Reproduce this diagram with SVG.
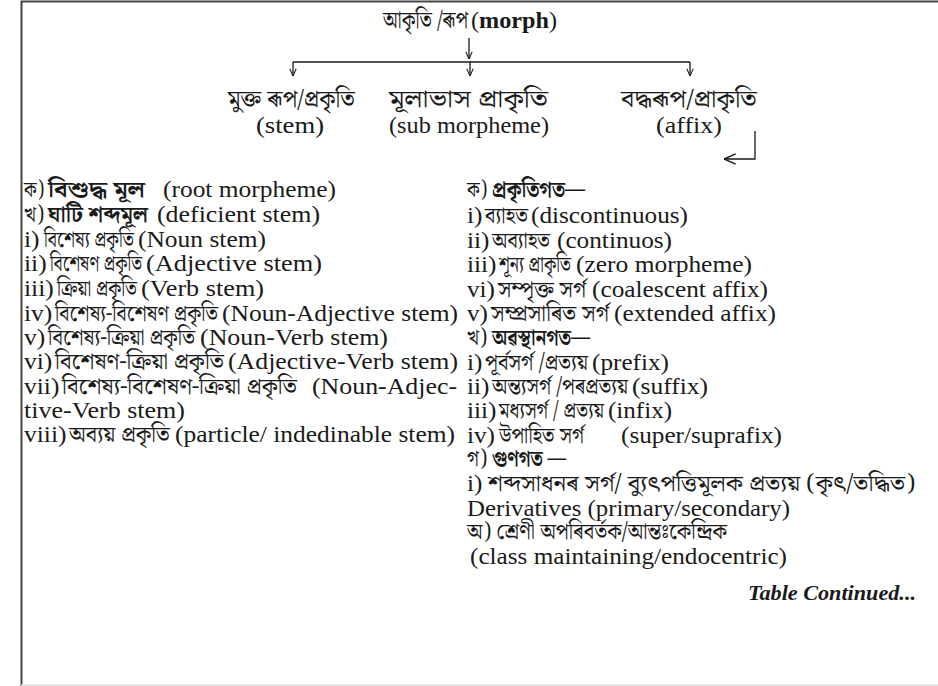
<svg xmlns="http://www.w3.org/2000/svg" width="938" height="686" viewBox="0 0 938 686">
<style>
text{fill:#1a1a1a}
.l{font-family:"Liberation Serif","Times New Roman",serif;font-size:22.5px}
.r{font-family:"Liberation Serif","Times New Roman",serif;font-size:24px}
.b{font-family:"Noto Serif Bengali","Noto Sans Bengali","Lohit Bengali","Liberation Serif",serif;font-size:23px}
.bt{font-family:"Noto Serif Bengali","Noto Sans Bengali","Lohit Bengali","Liberation Serif",serif;font-size:24px}
.bold{font-weight:bold}
.tc{font-family:"Liberation Serif","Times New Roman",serif;font-size:22px;font-weight:bold;font-style:italic}
.ln{stroke:#1a1a1a;stroke-width:1.3;fill:none}
.frame{stroke:#444;stroke-width:2;fill:none}
</style>
<defs>
<marker id="arr" viewBox="0 0 10 10" refX="10" refY="5" markerWidth="8" markerHeight="8" markerUnits="userSpaceOnUse" orient="auto">
<path d="M1,1 L10,5 L1,9" fill="none" stroke="#1a1a1a" stroke-width="1.3"/>
</marker>
<marker id="arrL" viewBox="0 0 10 10" refX="10" refY="5" markerWidth="13" markerHeight="13" markerUnits="userSpaceOnUse" orient="auto">
<path d="M1,1 L10,5 L1,9" fill="none" stroke="#1a1a1a" stroke-width="1.1"/>
</marker>
</defs>
<rect width="938" height="686" fill="#fff"/>
<path class="frame" d="M21.5,686 V1.5 H938"/>
<path d="M21,685 H938" stroke="#e2e2e2" stroke-width="1.5"/>

<g id="connectors">
<path class="ln" d="M469,38 V59" marker-end="url(#arr)"/>
<path class="ln" d="M293,62 H690"/>
<path class="ln" d="M293,62 V76" marker-end="url(#arr)"/>
<path class="ln" d="M470,62 V76" marker-end="url(#arr)"/>
<path class="ln" d="M690,62 V76" marker-end="url(#arr)"/>
<path class="ln" d="M755,131 V159 H724" marker-end="url(#arrL)"/>
</g>

<g id="node-morph">
<text class="r" y="28"><tspan class="bt" x="383" textLength="85" lengthAdjust="spacingAndGlyphs">আকৃতি /ৰূপ</tspan><tspan x="471" textLength="86" lengthAdjust="spacingAndGlyphs">(<tspan class="bold">morph</tspan>)</tspan></text>
</g>
<g id="node-stem">
<text class="bt" x="228" y="107" textLength="127" lengthAdjust="spacingAndGlyphs">মুক্ত ৰূপ/প্রকৃতি</text>
<text class="l" x="256" y="133" textLength="68" lengthAdjust="spacingAndGlyphs">(stem)</text>
</g>
<g id="node-sub">
<text class="bt" x="389" y="107" textLength="159" lengthAdjust="spacingAndGlyphs">মূলাভাস প্রাকৃতি</text>
<text class="l" x="389" y="133" textLength="160" lengthAdjust="spacingAndGlyphs">(sub morpheme)</text>
</g>
<g id="node-affix">
<text class="bt" x="621" y="107" textLength="136" lengthAdjust="spacingAndGlyphs">বদ্ধৰূপ/প্রাকৃতি</text>
<text class="l" x="656" y="133" textLength="66" lengthAdjust="spacingAndGlyphs">(affix)</text>
</g>

<g id="stem-list">
<text class="l" y="197"><tspan class="b" x="24" textLength="20" lengthAdjust="spacingAndGlyphs">ক)</tspan><tspan class="b bold" x="48" textLength="97" lengthAdjust="spacingAndGlyphs">বিশুদ্ধ মূল</tspan><tspan x="163" textLength="173" lengthAdjust="spacingAndGlyphs">(root morpheme)</tspan></text>

<text class="l" y="222"><tspan class="b" x="24" textLength="20" lengthAdjust="spacingAndGlyphs">খ)</tspan><tspan class="b bold" x="48" textLength="100" lengthAdjust="spacingAndGlyphs">ঘাটি শব্দমূল</tspan><tspan x="157" textLength="163" lengthAdjust="spacingAndGlyphs">(deficient stem)</tspan></text>

<text class="l" y="247"><tspan x="24" textLength="15.6" lengthAdjust="spacingAndGlyphs">i)</tspan><tspan class="b" x="44" textLength="90" lengthAdjust="spacingAndGlyphs">বিশেষ্য প্রকৃতি</tspan><tspan x="138" textLength="128" lengthAdjust="spacingAndGlyphs">(Noun stem)</tspan></text>

<text class="l" y="271"><tspan x="24" textLength="22.7" lengthAdjust="spacingAndGlyphs">ii)</tspan><tspan class="b" x="50" textLength="92" lengthAdjust="spacingAndGlyphs">বিশেষণ প্রকৃতি</tspan><tspan x="146" textLength="176" lengthAdjust="spacingAndGlyphs">(Adjective stem)</tspan></text>

<text class="l" y="296"><tspan x="24" textLength="29.8" lengthAdjust="spacingAndGlyphs">iii)</tspan><tspan class="b" x="57" textLength="80" lengthAdjust="spacingAndGlyphs">ক্রিয়া প্রকৃতি</tspan><tspan x="141" textLength="123" lengthAdjust="spacingAndGlyphs">(Verb stem)</tspan></text>

<text class="l" y="321"><tspan x="24" textLength="28.3" lengthAdjust="spacingAndGlyphs">iv)</tspan><tspan class="b" x="55" textLength="163" lengthAdjust="spacingAndGlyphs">বিশেষ্য-বিশেষণ প্রকৃতি</tspan><tspan x="222" textLength="236" lengthAdjust="spacingAndGlyphs">(Noun-Adjective stem)</tspan></text>

<text class="l" y="345"><tspan x="24" textLength="21.2" lengthAdjust="spacingAndGlyphs">v)</tspan><tspan class="b" x="48" textLength="147" lengthAdjust="spacingAndGlyphs">বিশেষ্য-ক্রিয়া প্রকৃতি</tspan><tspan x="200" textLength="188" lengthAdjust="spacingAndGlyphs">(Noun-Verb stem)</tspan></text>

<text class="l" y="369"><tspan x="24" textLength="28.3" lengthAdjust="spacingAndGlyphs">vi)</tspan><tspan class="b" x="55" textLength="169" lengthAdjust="spacingAndGlyphs">বিশেষণ-ক্রিয়া প্রকৃতি</tspan><tspan x="228" textLength="230" lengthAdjust="spacingAndGlyphs">(Adjective-Verb stem)</tspan></text>

<text class="l" y="394"><tspan x="24" textLength="35.4" lengthAdjust="spacingAndGlyphs">vii)</tspan><tspan class="b" x="62" textLength="235" lengthAdjust="spacingAndGlyphs">বিশেষ্য-বিশেষণ-ক্রিয়া প্রকৃতি</tspan><tspan x="312" textLength="145" lengthAdjust="spacingAndGlyphs">(Noun-Adjec-</tspan></text>

<text class="l" x="24" y="418" textLength="161" lengthAdjust="spacingAndGlyphs">tive-Verb stem)</text>

<text class="l" y="442"><tspan x="24" textLength="42.5" lengthAdjust="spacingAndGlyphs">viii)</tspan><tspan class="b" x="69" textLength="101" lengthAdjust="spacingAndGlyphs">অব্যয় প্রকৃতি</tspan><tspan x="175" textLength="280" lengthAdjust="spacingAndGlyphs">(particle/ indedinable stem)</tspan></text>
</g>

<g id="affix-list">
<text class="b" y="197"><tspan x="467" textLength="20" lengthAdjust="spacingAndGlyphs">ক)</tspan><tspan class="bold" x="492" textLength="93" lengthAdjust="spacingAndGlyphs">প্রকৃতিগত—</tspan></text>

<text class="r" y="223"><tspan x="467" textLength="15.4" lengthAdjust="spacingAndGlyphs">i)</tspan><tspan class="b" x="485" textLength="43" lengthAdjust="spacingAndGlyphs">ব্যাহত</tspan><tspan x="531" textLength="157" lengthAdjust="spacingAndGlyphs">(discontinuous)</tspan></text>

<text class="r" y="248"><tspan x="467" textLength="22.4" lengthAdjust="spacingAndGlyphs">ii)</tspan><tspan class="b" x="492" textLength="58" lengthAdjust="spacingAndGlyphs">অব্যাহত</tspan><tspan x="557" textLength="115" lengthAdjust="spacingAndGlyphs">(continuos)</tspan></text>

<text class="r" y="272"><tspan x="467" textLength="29.4" lengthAdjust="spacingAndGlyphs">iii)</tspan><tspan class="b" x="499" textLength="72" lengthAdjust="spacingAndGlyphs">শূন্য প্রাকৃতি</tspan><tspan x="576" textLength="176" lengthAdjust="spacingAndGlyphs">(zero morpheme)</tspan></text>

<text class="r" y="297"><tspan x="467" textLength="28" lengthAdjust="spacingAndGlyphs">vi)</tspan><tspan class="b" x="498" textLength="88" lengthAdjust="spacingAndGlyphs">সম্পৃক্ত সর্গ</tspan><tspan x="592" textLength="176" lengthAdjust="spacingAndGlyphs">(coalescent affix)</tspan></text>

<text class="r" y="321"><tspan x="467" textLength="21" lengthAdjust="spacingAndGlyphs">v)</tspan><tspan class="b" x="491" textLength="118" lengthAdjust="spacingAndGlyphs">সম্প্রসাৰিত সর্গ</tspan><tspan x="614" textLength="162" lengthAdjust="spacingAndGlyphs">(extended affix)</tspan></text>

<text class="b" y="345"><tspan x="467" textLength="20" lengthAdjust="spacingAndGlyphs">খ)</tspan><tspan class="bold" x="492" textLength="98" lengthAdjust="spacingAndGlyphs">অৱস্থানগত—</tspan></text>

<text class="r" y="370"><tspan x="467" textLength="15.4" lengthAdjust="spacingAndGlyphs">i)</tspan><tspan class="b" x="485" textLength="103" lengthAdjust="spacingAndGlyphs">পূর্বসর্গ /প্রত্যয়</tspan><tspan x="592" textLength="77" lengthAdjust="spacingAndGlyphs">(prefix)</tspan></text>

<text class="r" y="394"><tspan x="467" textLength="22.4" lengthAdjust="spacingAndGlyphs">ii)</tspan><tspan class="b" x="492" textLength="136" lengthAdjust="spacingAndGlyphs">অন্ত্যসর্গ /পৰপ্রত্যয়</tspan><tspan x="632" textLength="76" lengthAdjust="spacingAndGlyphs">(suffix)</tspan></text>

<text class="r" y="418"><tspan x="467" textLength="29.4" lengthAdjust="spacingAndGlyphs">iii)</tspan><tspan class="b" x="499" textLength="105" lengthAdjust="spacingAndGlyphs">মধ্যসর্গ / প্রত্যয়</tspan><tspan x="608" textLength="64" lengthAdjust="spacingAndGlyphs">(infix)</tspan></text>

<text class="r" y="443"><tspan x="467" textLength="28" lengthAdjust="spacingAndGlyphs">iv)</tspan><tspan class="b" x="499" textLength="85" lengthAdjust="spacingAndGlyphs">উপাহিত সর্গ</tspan><tspan x="621" textLength="161" lengthAdjust="spacingAndGlyphs">(super/suprafix)</tspan></text>

<text class="b" y="466"><tspan x="467" textLength="20" lengthAdjust="spacingAndGlyphs">গ)</tspan><tspan class="bold" x="492" textLength="74" lengthAdjust="spacingAndGlyphs">গুণগত —</tspan></text>

<text class="r" y="491"><tspan x="467" textLength="15.4" lengthAdjust="spacingAndGlyphs">i)</tspan><tspan class="b" x="488" textLength="427" lengthAdjust="spacingAndGlyphs">শব্দসাধনৰ  সর্গ/  ব্যুৎপত্তিমূলক  প্রত্যয়  (কৃৎ/তদ্ধিত)</tspan></text>

<text class="r" x="467" y="516" textLength="323" lengthAdjust="spacingAndGlyphs">Derivatives (primary/secondary)</text>

<text class="b" x="467" y="539" textLength="260" lengthAdjust="spacingAndGlyphs">অ) শ্রেণী অপৰিবর্তক/আন্তঃকেন্দ্রিক</text>

<text class="r" x="470" y="564" textLength="317" lengthAdjust="spacingAndGlyphs">(class maintaining/endocentric)</text>

<text class="tc" x="748" y="600" textLength="168" lengthAdjust="spacingAndGlyphs">Table Continued...</text>
</g>
</svg>
